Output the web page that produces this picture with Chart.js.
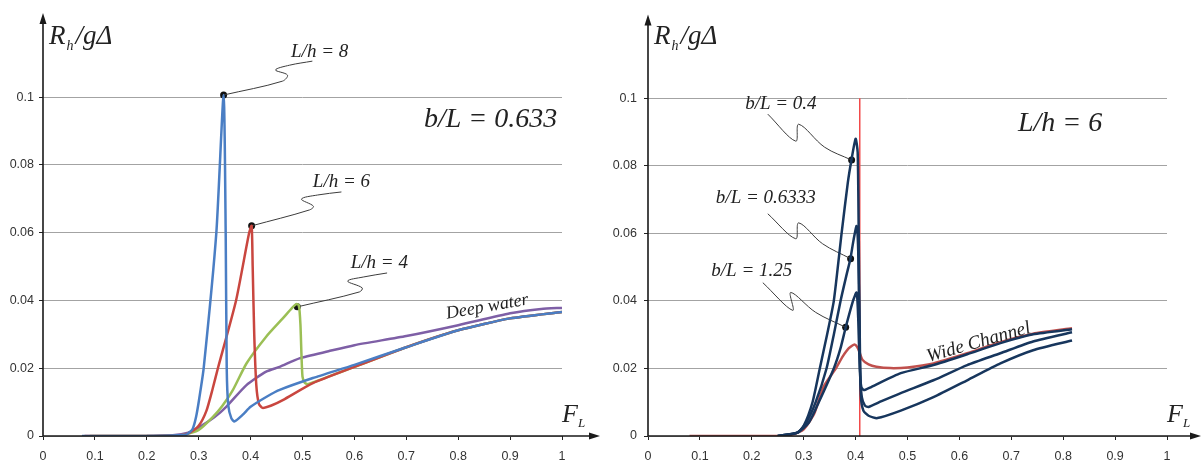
<!DOCTYPE html>
<html>
<head>
<meta charset="utf-8">
<script src="https://cdn.jsdelivr.net/npm/chart.js@4.4.0/dist/chart.umd.min.js"></script>
<style>
html, body { margin: 0; padding: 0; background: #fff; overflow: hidden; }
canvas { position: absolute; top: 0; }
#left { left: 0; }
#right { left: 601px; }
</style>
</head>
<body>
<canvas id="left" width="601" height="463"></canvas>
<canvas id="right" width="601" height="463"></canvas>
<script>
// ---- left panel: b/L = 0.633 ----
const lh8X = [0.075, 0.2, 0.26, 0.277, 0.288, 0.295, 0.301, 0.3096, 0.334, 0.348, 0.352, 0.354, 0.357, 0.363, 0.369, 0.385, 0.4, 0.43, 0.456, 0.52, 0.6, 0.7, 0.8, 0.9, 1.0]
const lh8Y = [0, 0, 0.0002, 0.0005, 0.002, 0.0057, 0.011, 0.02, 0.06, 0.1006, 0.06, 0.02, 0.009, 0.0052, 0.0043, 0.0063, 0.0086, 0.0115, 0.0136, 0.0171, 0.021, 0.0262, 0.0312, 0.0347, 0.0366]
const lh6X = [0.08, 0.2, 0.27, 0.285, 0.3, 0.315, 0.327, 0.337, 0.372, 0.397, 0.402, 0.404, 0.407, 0.411, 0.416, 0.423, 0.44, 0.462, 0.52, 0.6, 0.7, 0.8, 0.9, 1.0]
const lh6Y = [0, 0, 0.0003, 0.0012, 0.003, 0.0075, 0.014, 0.02, 0.04, 0.0598, 0.062, 0.05, 0.03, 0.015, 0.0095, 0.0083, 0.009, 0.0106, 0.0156, 0.0204, 0.0262, 0.0312, 0.0347, 0.0366]
const lh4X = [0.09, 0.2, 0.27, 0.3, 0.327, 0.345, 0.366, 0.392, 0.43, 0.462, 0.48, 0.488, 0.493, 0.496, 0.498, 0.5, 0.504, 0.51, 0.55, 0.6, 0.7, 0.8, 0.9, 1.0]
const lh4Y = [0, 0, 0.0003, 0.0018, 0.0056, 0.0088, 0.0136, 0.0214, 0.0293, 0.0347, 0.0378, 0.0389, 0.0386, 0.033, 0.024, 0.0175, 0.0158, 0.0153, 0.0175, 0.0204, 0.0262, 0.0312, 0.0347, 0.0366]
const deepX = [0.2, 0.25, 0.28, 0.302, 0.33, 0.353, 0.392, 0.43, 0.456, 0.494, 0.55, 0.6, 0.7, 0.8, 0.9, 0.96, 1.0]
const deepY = [0, 0.0002, 0.001, 0.0027, 0.0055, 0.0086, 0.015, 0.019, 0.0204, 0.0229, 0.025, 0.0268, 0.0295, 0.0327, 0.0362, 0.0375, 0.0378]

// marked points and their leader lines (left)
const dotLX = [0.348, 0.402, 0.49]
const dotLY = [0.1006, 0.062, 0.0381]
const lead8X = [0.348, 0.4615, 0.471, 0.448, 0.475, 0.519]
const lead8Y = [0.1006, 0.1047, 0.1065, 0.108, 0.1094, 0.1106]
const lead6X = [0.402, 0.5135, 0.521, 0.498, 0.529, 0.575]
const lead6Y = [0.062, 0.0667, 0.0678, 0.0699, 0.0711, 0.072]
const lead4X = [0.49, 0.6096, 0.615, 0.587, 0.617, 0.663]
const lead4Y = [0.0381, 0.0425, 0.0437, 0.0457, 0.0469, 0.0481]

// ---- right panel: L/h = 6 ----
const bl04X = [0.25, 0.288, 0.3, 0.317, 0.331, 0.345, 0.358, 0.373, 0.385, 0.392, 0.4, 0.404, 0.406, 0.408, 0.41, 0.415, 0.425, 0.442, 0.487, 0.55, 0.615, 0.679, 0.742, 0.817]
const bl04Y = [0, 0.001, 0.003, 0.01, 0.02, 0.03, 0.04, 0.06, 0.075, 0.0817, 0.088, 0.084, 0.06, 0.03, 0.012, 0.0075, 0.006, 0.0053, 0.0075, 0.0115, 0.0165, 0.0215, 0.0254, 0.0283]
const bl06X = [0.25, 0.288, 0.305, 0.323, 0.344, 0.358, 0.371, 0.383, 0.39, 0.396, 0.402, 0.405, 0.407, 0.409, 0.412, 0.418, 0.425, 0.45, 0.487, 0.55, 0.615, 0.679, 0.742, 0.817]
const bl06Y = [0, 0.001, 0.004, 0.01, 0.02, 0.03, 0.04, 0.048, 0.0525, 0.058, 0.0622, 0.055, 0.035, 0.018, 0.0115, 0.009, 0.0086, 0.0103, 0.0127, 0.0165, 0.021, 0.0245, 0.028, 0.0307]
const bl125X = [0.25, 0.288, 0.31, 0.329, 0.358, 0.371, 0.381, 0.395, 0.402, 0.405, 0.408, 0.411, 0.416, 0.43, 0.487, 0.55, 0.615, 0.679, 0.742, 0.817]
const bl125Y = [0, 0.001, 0.004, 0.01, 0.02, 0.026, 0.0322, 0.04, 0.0425, 0.035, 0.02, 0.0145, 0.0136, 0.0145, 0.0186, 0.021, 0.0242, 0.0275, 0.0301, 0.0316]
const wideX = [0.08, 0.25, 0.28, 0.3, 0.32, 0.338, 0.362, 0.375, 0.387, 0.398, 0.405, 0.413, 0.425, 0.44, 0.467, 0.5, 0.55, 0.615, 0.679, 0.742, 0.817]
const wideY = [0, 0, 0.0005, 0.002, 0.0065, 0.0145, 0.02, 0.0235, 0.026, 0.0271, 0.0258, 0.0226, 0.0212, 0.0205, 0.0201, 0.0203, 0.0215, 0.0245, 0.0278, 0.0303, 0.0319]
const critX = [0.408, 0.408]
const critY = [0, 0.1]

const dotRX = [0.3923, 0.3904, 0.3808]
const dotRY = [0.0817, 0.0525, 0.0322]
const leadAX = [0.2308, 0.2846, 0.2904, 0.3404, 0.3923]
const leadAY = [0.0953, 0.0873, 0.0923, 0.0855, 0.0817]
const leadBX = [0.2308, 0.2846, 0.2904, 0.3365, 0.3904]
const leadBY = [0.0658, 0.0584, 0.0631, 0.0569, 0.0525]
const leadCX = [0.2212, 0.2788, 0.275, 0.3231, 0.3808]
const leadCY = [0.0454, 0.0372, 0.0425, 0.0366, 0.0322]

const xTicks = [0, 0.1, 0.2, 0.3, 0.4, 0.5, 0.6, 0.7, 0.8, 0.9, 1]
const yTicks = [0, 0.02, 0.04, 0.06, 0.08, 0.1]

const mk = (xs, ys) => xs.map((v, i) => ({ x: v, y: ys[i] }))

const curve = (xs, ys, color) => ({
    data: mk(xs, ys), borderColor: color, borderWidth: 2.5, pointRadius: 0,
    showLine: true, tension: 0.2, borderJoinStyle: 'round'
})
const leader = (xs, ys) => ({
    data: mk(xs, ys), borderColor: '#3c3c3c', borderWidth: 1, pointRadius: 0,
    showLine: true, tension: 0.35
})
const dots = (xs, ys) => ({
    data: mk(xs, ys), pointRadius: 3.5, pointBackgroundColor: '#111',
    pointBorderWidth: 0, showLine: false
})

const serif = '"Liberation Serif", "Times New Roman", serif'
const sans = '"Liberation Sans", Arial, sans-serif'

// axes with arrows, axis titles and text notes
const decor = (notes, tip) => ({
    id: 'decor',
    afterDraw(chart) {
        const { ctx, chartArea: a, scales: { x, y } } = chart
        const x0 = x.getPixelForValue(0), y0 = y.getPixelForValue(0)
        ctx.save()
        ctx.strokeStyle = '#1a1a1a'
        ctx.fillStyle = '#1a1a1a'
        ctx.lineWidth = 1.6
        ctx.beginPath()
        ctx.moveTo(x0, y0 + 0.5)
        ctx.lineTo(x0, a.top + 8)
        ctx.moveTo(x0, y0)
        ctx.lineTo(tip - 8, y0)
        ctx.stroke()
        ctx.beginPath()
        ctx.moveTo(x0, a.top)
        ctx.lineTo(x0 - 3.5, a.top + 11)
        ctx.lineTo(x0 + 3.5, a.top + 11)
        ctx.closePath()
        ctx.moveTo(tip, y0)
        ctx.lineTo(tip - 11, y0 - 3.5)
        ctx.lineTo(tip - 11, y0 + 3.5)
        ctx.closePath()
        ctx.fill()

        // axis titles
        ctx.fillStyle = '#222'
        ctx.textBaseline = 'alphabetic'
        ctx.textAlign = 'left'
        let px = x0 + 6
        ctx.font = `italic 27px ${serif}`
        ctx.fillText('R', px, 44)
        px += ctx.measureText('R').width + 1
        ctx.font = `italic 14px ${serif}`
        ctx.fillText('h', px, 50)
        px += ctx.measureText('h').width + 2
        ctx.font = `italic 27px ${serif}`
        ctx.fillText('/g\u0394', px, 44)

        px = a.right
        ctx.font = `italic 26px ${serif}`
        ctx.fillText('F', px, 422)
        px += ctx.measureText('F').width
        ctx.font = `italic 13px ${serif}`
        ctx.fillText('L', px, 427)

        // notes
        ctx.textAlign = 'center'
        ctx.textBaseline = 'middle'
        notes.forEach(n => {
            ctx.save()
            ctx.translate(x.getPixelForValue(n.x), y.getPixelForValue(n.y))
            ctx.rotate((n.rot || 0) * Math.PI / 180)
            ctx.font = `italic ${n.size}px ${serif}`
            ctx.fillText(n.text, 0, 0)
            ctx.restore()
        })
        ctx.restore()
    }
})

const makeChart = (id, datasets, yWidth, padRight, yPad, notes, tip) => new Chart(document.getElementById(id), {
    type: 'scatter',
    data: { datasets },
    options: {
        responsive: false,
        animation: false,
        devicePixelRatio: 1,
        layout: { padding: { top: 13, right: padRight, left: 0, bottom: 0 } },
        plugins: { legend: { display: false }, tooltip: { enabled: false } },
        scales: {
            x: {
                type: 'linear', min: 0, max: 1,
                afterFit: s => { s.height = 27 },
                afterBuildTicks: s => { s.ticks = xTicks.map(v => ({ value: v })) },
                border: { display: false },
                grid: { drawOnChartArea: false, tickLength: 4, tickColor: '#222' },
                ticks: {
                    padding: 9, color: '#333', maxRotation: 0, autoSkip: false,
                    font: { family: sans, size: 12.5 },
                    callback: v => String(+v.toFixed(1))
                }
            },
            y: {
                min: 0, max: 0.1248,
                afterFit: s => { s.width = yWidth },
                afterBuildTicks: s => { s.ticks = yTicks.map(v => ({ value: v })) },
                border: { display: false },
                grid: { color: '#a3a3a3', lineWidth: 1, tickLength: 4, tickColor: '#222' },
                ticks: {
                    padding: yPad, color: '#333',
                    font: { family: sans, size: 12.5 },
                    callback: v => String(+v.toFixed(2))
                }
            }
        }
    },
    plugins: [decor(notes, tip)]
})

makeChart('left', [
    curve(lh8X, lh8Y, '#4a7ec4'),
    curve(lh6X, lh6Y, '#c9463f'),
    curve(lh4X, lh4Y, '#9bbf55'),
    curve(deepX, deepY, '#7e5fa6'),
    leader(lead8X, lead8Y),
    leader(lead6X, lead6Y),
    leader(lead4X, lead4Y),
    dots(dotLX, dotLY)
], 43, 39, 5, [
    { text: 'L/h = 8', x: 0.533, y: 0.1133, size: 19 },
    { text: 'L/h = 6', x: 0.575, y: 0.0749, size: 19 },
    { text: 'L/h = 4', x: 0.648, y: 0.051, size: 19 },
    { text: 'Deep water', x: 0.856, y: 0.0381, size: 18, rot: -10 },
    { text: 'b/L = 0.633', x: 0.8625, y: 0.0932, size: 28 }
], 600)

makeChart('right', [
    curve(bl04X, bl04Y, '#17365d'),
    curve(bl06X, bl06Y, '#17365d'),
    curve(bl125X, bl125Y, '#17365d'),
    { data: mk(critX, critY), borderColor: '#f24a4a', borderWidth: 1.5, pointRadius: 0, showLine: true },
    curve(wideX, wideY, '#c0504d'),
    leader(leadAX, leadAY),
    leader(leadBX, leadBY),
    leader(leadCX, leadCY),
    dots(dotRX, dotRY)
], 47, 35, 7, [
    { text: 'b/L = 0.4', x: 0.256, y: 0.0982, size: 19 },
    { text: 'b/L = 0.6333', x: 0.227, y: 0.0705, size: 19 },
    { text: 'b/L = 1.25', x: 0.2, y: 0.049, size: 19 },
    { text: 'L/h = 6', x: 0.794, y: 0.0926, size: 28 },
    { text: 'Wide Channel', x: 0.637, y: 0.0277, size: 19, rot: -16 }
], 600)
</script>
</body>
</html>
